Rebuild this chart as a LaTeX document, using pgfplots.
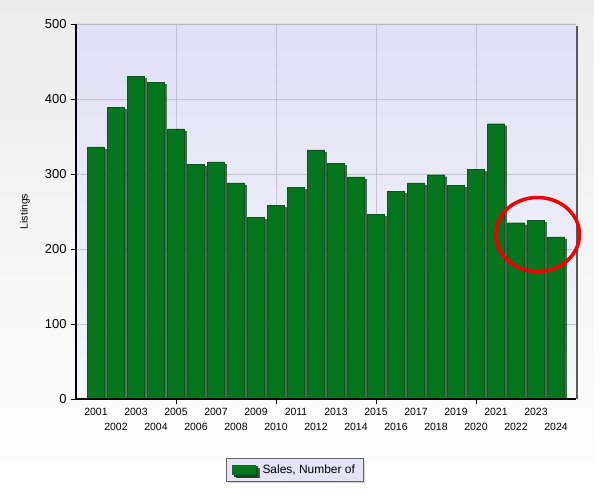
\documentclass[border=0pt]{standalone}
\usepackage{pgfplots}
\pgfplotsset{compat=1.18}
\usepackage{fontspec}
\setmainfont{Liberation Sans}
\usetikzlibrary{shadows}
\definecolor{bargreen}{RGB}{6,118,30}
\definecolor{baredge}{RGB}{4,90,22}
\definecolor{plottop}{RGB}{224,224,246}
\definecolor{plotbot}{RGB}{246,246,252}
\definecolor{gridc}{RGB}{196,196,210}
\definecolor{legbg}{RGB}{228,228,246}
\newcommand{\od}[1]{\rule{0pt}{8bp}#1}
\newcommand{\ev}[1]{\rule{0pt}{8bp}\raisebox{-15bp}{#1}}
\begin{document}
\begin{tikzpicture}
\shade[top color={rgb,255:red,236;green,236;blue,236}, bottom color=white] (-76bp,-102bp) rectangle (518bp,399bp);
\fill[white] (518bp,-102bp) rectangle (526bp,399bp);
\begin{axis}[
  at={(0,0)}, anchor=south west,
  scale only axis, width=500bp, height=375bp,
  xmin=0, xmax=25, ymin=0, ymax=500,
  /pgf/number format/assume math mode=true,
  axis background/.style={shade, top color=plottop, bottom color=plotbot},
  axis line style={draw=none},
  xtick={5,10,15,20}, xticklabels={},
  ytick={0,100,200,300,400,500},
  grid=major, major grid style={gridc, line width=0.6bp},
  tick style={black, line width=0.8bp},
  major tick length=5bp,
  tick align=outside,
  xtick pos=bottom, ytick pos=left,
  extra x ticks={1,2,3,4,5,6,7,8,9,10,11,12,13,14,15,16,17,18,19,20,21,22,23,24},
  extra x tick labels={\od{2001},\ev{2002},\od{2003},\ev{2004},\od{2005},\ev{2006},\od{2007},\ev{2008},\od{2009},\ev{2010},\od{2011},\ev{2012},\od{2013},\ev{2014},\od{2015},\ev{2016},\od{2017},\ev{2018},\od{2019},\ev{2020},\od{2021},\ev{2022},\od{2023},\ev{2024}},
  extra x tick style={grid=none, major tick length=0pt},
  xticklabel style={anchor=north, font=\fontsize{10.5}{12}\selectfont, yshift=-5bp},
  yticklabel style={font=\fontsize{13}{15}\selectfont, xshift=-1bp},
  ylabel={Listings},
  ylabel style={at={(axis description cs:-0.102,0.5)}, anchor=center, font=\fontsize{10.5}{12}\selectfont},
  legend style={at={(0.437,-0.188)}, anchor=center, fill=legbg, draw=gray!80!black,
    font=\fontsize{12}{14}\selectfont, inner xsep=6bp, inner ysep=4.5bp,
    drop shadow={shadow xshift=2bp, shadow yshift=-2bp, fill=gray!70}},
  legend image code/.code={
    \fill[gray!60!black] (2bp,-6bp) rectangle (25bp,3bp);
    \fill[bargreen] (0bp,-5bp) rectangle (23bp,4bp);},
  clip=true,
]
\addplot[ybar, bar width=17bp, fill=bargreen, draw=baredge, line width=0.4bp,
  drop shadow={shadow xshift=2bp, shadow yshift=-2bp, fill=black, opacity=0.6}]
  coordinates {(1,336) (2,389) (3,430) (4,422) (5,360) (6,313) (7,316) (8,288)
   (9,242) (10,258) (11,282) (12,332) (13,314) (14,296) (15,246) (16,277)
   (17,288) (18,299) (19,285) (20,306) (21,367) (22,235) (23,238) (24,216)};
\addlegendentry{\hspace{3bp}Sales, Number of\hspace{4bp}}
\end{axis}
\draw[gray!70!black, line width=2bp] (501bp,0bp) -- (501bp,373bp);
\draw[gray!55, line width=0.6bp] (0,375bp) -- (500bp,375bp);
\draw[black, line width=1.2bp] (0,375bp) -- (0,0) -- (500bp,0);
\draw[red!95!black, line width=3.5bp] (461.5bp,164.5bp) ellipse [x radius=42bp, y radius=37bp];
\pgfresetboundingbox
\path (-76bp,-102bp) rectangle (526bp,399bp);
\end{tikzpicture}
\end{document}
